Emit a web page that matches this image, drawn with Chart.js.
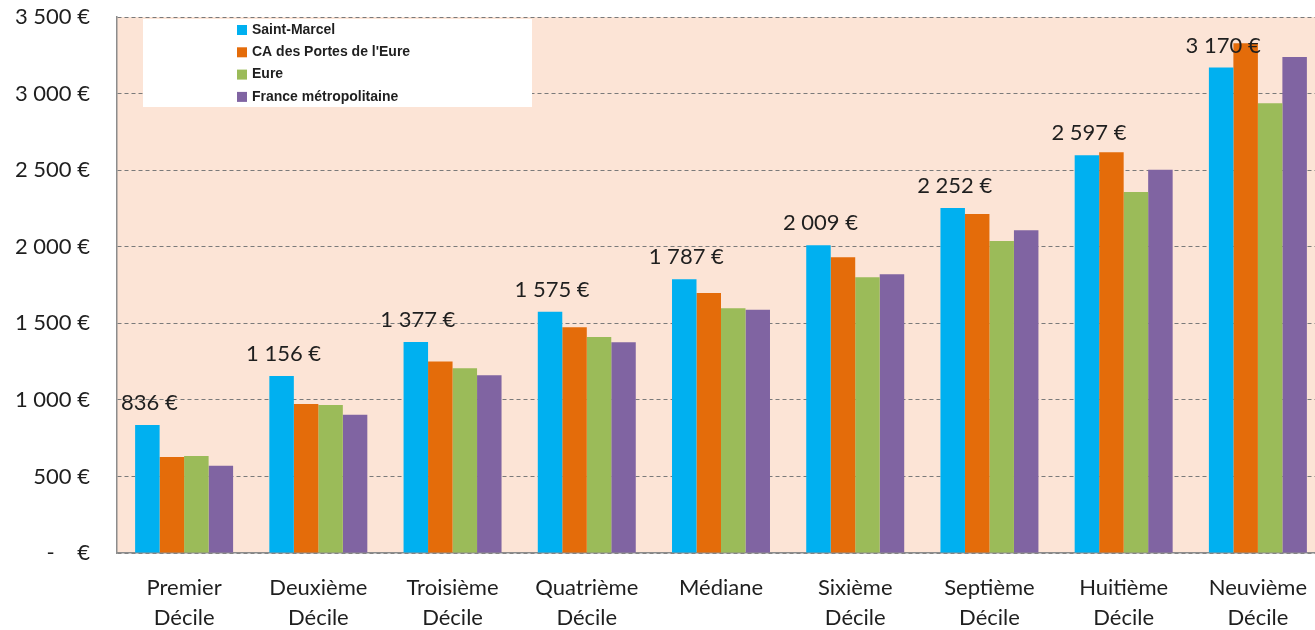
<!DOCTYPE html>
<html lang="fr">
<head>
<meta charset="utf-8">
<title>Revenus par décile</title>
<script src="https://cdn.jsdelivr.net/npm/chart.js@4/dist/chart.umd.min.js"></script>
<style>
  html, body { margin: 0; padding: 0; background: #ffffff; overflow: hidden; }
  #wrap { width: 1325px; height: 630px; }
</style>
</head>
<body>
<div id="wrap"><canvas id="c" width="1325" height="630"></canvas></div>
<script>
// Déciles de revenu mensuel
const categories = [
  ['Premier', 'Décile'], ['Deuxième', 'Décile'], ['Troisième', 'Décile'],
  ['Quatrième', 'Décile'], ['Médiane'], ['Sixième', 'Décile'],
  ['Septième', 'Décile'], ['Huitième', 'Décile'], ['Neuvième', 'Décile']
];
const seriesNames = ['Saint-Marcel', "CA des Portes de l'Eure", 'Eure', 'France métropolitaine'];
const saintMarcel = [836, 1156, 1377, 1575, 1787, 2009, 2252, 2597, 3170];
const portesEure  = [627, 973, 1250, 1474, 1698, 1931, 2214, 2617, 3329];
const eure        = [634, 967, 1206, 1411, 1598, 1801, 2038, 2358, 2937];
const france      = [570, 903, 1161, 1376, 1589, 1820, 2108, 2502, 3238];
const yTicks = [0, 500, 1000, 1500, 2000, 2500, 3000, 3500];

const colors = ['#00B0F0', '#E46C0A', '#9BBB59', '#8064A2'];
const TEXT = '#1f1f1f';
const FONT = 'Lato, "Open Sans", sans-serif';

function euros(v) {
  if (v === 0) return '-\u00a0\u00a0\u00a0\u00a0€';
  return String(v).replace(/\B(?=(\d{3})+(?!\d))/g, '\u00a0') + '\u00a0€';
}

// peach plotting area
const plotBackground = {
  id: 'plotBackground',
  beforeDraw(chart) {
    const { ctx, chartArea: a } = chart;
    ctx.save();
    ctx.fillStyle = '#FCE4D6';
    ctx.fillRect(a.left, a.top, a.right - a.left, a.bottom - a.top);
    ctx.restore();
  }
};

// value labels above the Saint-Marcel bars
const valueLabels = {
  id: 'valueLabels',
  afterDatasetsDraw(chart) {
    const { ctx } = chart;
    const meta = chart.getDatasetMeta(0);
    const data = chart.data.datasets[0].data;
    ctx.save();
    ctx.font = '22px ' + FONT;
    ctx.fillStyle = TEXT;
    ctx.textAlign = 'center';
    ctx.textBaseline = 'middle';
    meta.data.forEach((bar, i) => {
      ctx.fillText(euros(data[i]), bar.x + 2, bar.y - 22);
    });
    ctx.restore();
  }
};

// boxed legend inside the plotting area
const boxLegend = {
  id: 'boxLegend',
  afterDraw(chart) {
    const { ctx } = chart;
    ctx.save();
    ctx.fillStyle = '#ffffff';
    ctx.fillRect(143, 19, 389, 88);
    ctx.font = 'bold 14px "Liberation Sans", Arial, sans-serif';
    ctx.textBaseline = 'middle';
    ctx.textAlign = 'left';
    chart.data.datasets.forEach((ds, i) => {
      const y = 30 + i * 22.3;
      ctx.fillStyle = ds.backgroundColor;
      ctx.fillRect(237, y - 5, 10, 10);
      ctx.fillStyle = TEXT;
      ctx.fillText(ds.label, 252, y);
    });
    ctx.restore();
  }
};

const seriesValues = [saintMarcel, portesEure, eure, france];

new Chart(document.getElementById('c'), {
  type: 'bar',
  data: {
    labels: categories,
    datasets: seriesNames.map((name, i) => ({
      label: name,
      data: seriesValues[i],
      backgroundColor: colors[i],
      borderWidth: 0,
      categoryPercentage: 0.73,
      barPercentage: 1.0
    }))
  },
  options: {
    responsive: false,
    maintainAspectRatio: false,
    animation: false,
    devicePixelRatio: 1,
    layout: { autoPadding: false, padding: { top: 17, right: 0, bottom: 0, left: 0 } },
    plugins: {
      legend: { display: false },
      title: { display: false },
      tooltip: { enabled: false }
    },
    scales: {
      x: {
        grid: { display: false, drawTicks: false },
        border: { display: true, color: '#8c8c8c', width: 1.5 },
        ticks: {
          color: TEXT,
          font: { family: FONT, size: 22, lineHeight: 1.36 },
          padding: 20,
          maxRotation: 0,
          autoSkip: false
        },
        afterFit(scale) {
          scale.height = 77;
          scale.paddingLeft = 0;
          scale.paddingRight = 0;
        }
      },
      y: {
        min: 0,
        max: 3500,
        afterBuildTicks(scale) { scale.ticks = yTicks.map(v => ({ value: v })); },
        grid: { color: '#7a7a7a', lineWidth: 1, drawTicks: false },
        border: { display: true, color: '#8c8c8c', width: 1.5, dash: [4, 3] },
        ticks: {
          color: TEXT,
          font: { family: FONT, size: 22 },
          padding: 27,
          callback: v => euros(v)
        },
        afterFit(scale) {
          scale.width = 117;
          scale.paddingTop = 0;
          scale.paddingBottom = 0;
        }
      }
    }
  },
  plugins: [plotBackground, valueLabels, boxLegend]
});
</script>
</body>
</html>
